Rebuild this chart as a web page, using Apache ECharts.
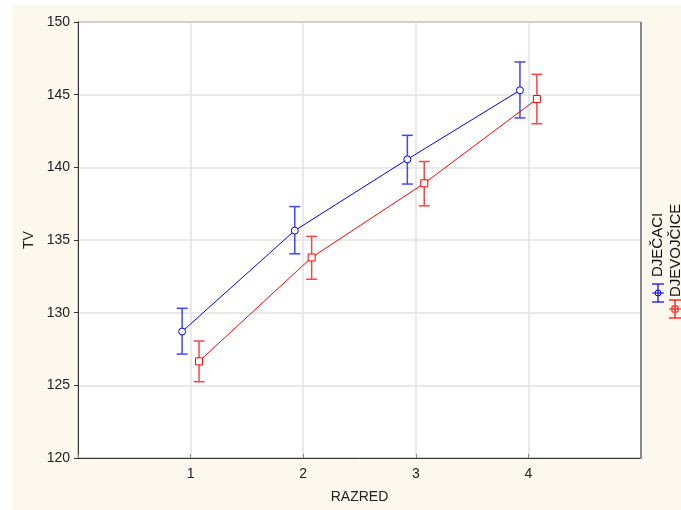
<!DOCTYPE html>
<html>
<head>
<meta charset="utf-8">
<script src="https://cdn.jsdelivr.net/npm/echarts@6/dist/echarts.min.js"></script>
<style>
  html, body { margin: 0; padding: 0; background: #ffffff; }
  #bg { position: absolute; left: 12px; top: 5px; width: 669px; height: 505px; background: #fdf8ee; }
  #chart { position: absolute; left: 0; top: 0; width: 681px; height: 510px; }
</style>
</head>
<body>
<div id="bg"></div>
<div id="chart"></div>
<script>
// ---- data ----
const categories = [1, 2, 3, 4];
const yTicks = [120, 125, 130, 135, 140, 145, 150];
const seriesNames = ['DJEČACI', 'DJEVOJČICE'];
const boysMean = [128.7, 135.65, 140.55, 145.3];
const boysLow  = [127.15, 134.05, 138.85, 143.4];
const boysHigh = [130.3, 137.3, 142.2, 147.25];
const girlsMean = [126.65, 133.8, 138.9, 144.7];
const girlsLow  = [125.25, 132.3, 137.35, 143.0];
const girlsHigh = [128.05, 135.25, 140.4, 146.4];

// ---- style constants ----
const OFFSET = 0.075;
const BLUE = '#0000ff', RED = '#ff0000';
const BLUE_EB = '#4444ff', RED_EB = '#ff4444';
const FONT = 'Liberation Sans, Arial, sans-serif';

const chart = echarts.init(document.getElementById('chart'), null, { renderer: 'canvas' });

function pts(mean, off) { return categories.map((c, i) => [c + off, mean[i]]); }
function ebData(low, high, off) { return categories.map((c, i) => [c + off, low[i], high[i]]); }

function errorBar(color) {
  return function (params, api) {
    const x = api.value(0);
    const lo = api.coord([x, api.value(1)]);
    const hi = api.coord([x, api.value(2)]);
    const w = 5.5;
    const st = { stroke: color, lineWidth: 1.5 };
    return {
      type: 'group',
      children: [
        { type: 'line', shape: { x1: lo[0], y1: lo[1], x2: hi[0], y2: hi[1] }, style: st },
        { type: 'line', shape: { x1: lo[0] - w, y1: lo[1], x2: lo[0] + w, y2: lo[1] }, style: st },
        { type: 'line', shape: { x1: hi[0] - w, y1: hi[1], x2: hi[0] + w, y2: hi[1] }, style: st }
      ]
    };
  };
}

function legendMark(cx, cy, color, shape) {
  const st = { stroke: color, lineWidth: 1.2 };
  const w = 6, h = 9;
  const children = [
    { type: 'line', shape: { x1: cx, y1: cy - h, x2: cx, y2: cy + h }, style: st },
    { type: 'line', shape: { x1: cx - w, y1: cy - h, x2: cx + w, y2: cy - h }, style: st },
    { type: 'line', shape: { x1: cx - w, y1: cy + h, x2: cx + w, y2: cy + h }, style: st },
    { type: 'line', shape: { x1: cx - w, y1: cy, x2: cx + w, y2: cy }, style: { stroke: color, lineWidth: 1 } }
  ];
  if (shape === 'circle') {
    children.push({ type: 'circle', shape: { cx: cx, cy: cy, r: 3 }, style: { stroke: color, fill: 'none', lineWidth: 1 } });
  } else {
    children.push({ type: 'rect', shape: { x: cx - 3, y: cy - 3, width: 6, height: 6 }, style: { stroke: color, fill: 'none', lineWidth: 1 } });
  }
  return { type: 'group', children: children, z: 100 };
}

const option = {
  animation: false,
  backgroundColor: 'transparent',
  textStyle: { fontFamily: FONT },
  grid: {
    left: 78, top: 22, right: 40, bottom: 52,
    show: true, backgroundColor: '#ffffff', borderColor: '#444', borderWidth: 1
  },
  xAxis: {
    type: 'value', min: 0, max: 5, interval: 1,
    name: 'RAZRED', nameLocation: 'middle', nameGap: 32,
    nameTextStyle: { color: '#222', fontSize: 14, fontFamily: FONT },
    axisLine: { show: true, lineStyle: { color: '#333' } },
    axisTick: { show: true, inside: true, length: 4, lineStyle: { color: '#888' } },
    axisLabel: {
      color: '#222', fontSize: 14, fontFamily: FONT, margin: 9,
      formatter: v => (categories.indexOf(v) >= 0 ? String(v) : '')
    },
    splitLine: { show: true, lineStyle: { color: '#e2e2e2', width: 1.5 } }
  },
  yAxis: {
    type: 'value', min: yTicks[0], max: yTicks[yTicks.length - 1], interval: 5,
    name: 'TV', nameLocation: 'middle', nameGap: 38,
    nameTextStyle: { color: '#222', fontSize: 14, fontFamily: FONT },
    axisLine: { show: true, lineStyle: { color: '#333' } },
    axisTick: { show: true, length: 4, lineStyle: { color: '#333' } },
    axisLabel: { color: '#222', fontSize: 14, fontFamily: FONT, margin: 8 },
    splitLine: { show: true, lineStyle: { color: '#e2e2e2', width: 1.5 } }
  },
  series: [
    {
      name: seriesNames[0], type: 'custom', renderItem: errorBar(BLUE_EB),
      data: ebData(boysLow, boysHigh, -OFFSET), encode: { x: 0, y: [1, 2] }, z: 3
    },
    {
      name: seriesNames[1], type: 'custom', renderItem: errorBar(RED_EB),
      data: ebData(girlsLow, girlsHigh, OFFSET), encode: { x: 0, y: [1, 2] }, z: 3
    },
    {
      name: seriesNames[0], type: 'line', data: pts(boysMean, -OFFSET),
      symbol: 'circle', symbolSize: 7,
      lineStyle: { color: BLUE, width: 1 },
      itemStyle: { color: '#ffffff', borderColor: BLUE, borderWidth: 1 }, z: 4
    },
    {
      name: seriesNames[1], type: 'line', data: pts(girlsMean, OFFSET),
      symbol: 'rect', symbolSize: 7,
      lineStyle: { color: RED, width: 1 },
      itemStyle: { color: '#ffffff', borderColor: RED, borderWidth: 1 }, z: 4
    }
  ],
  graphic: [
    { type: 'line', shape: { x1: 641, y1: 22, x2: 641, y2: 459 }, style: { stroke: '#888', lineWidth: 2 }, z: 100 },
    {
      type: 'text', x: 658, y: 277, rotation: Math.PI / 2,
      style: { text: seriesNames[0], fill: '#111', font: '15px ' + FONT, textAlign: 'left', textVerticalAlign: 'middle' }, z: 100
    },
    {
      type: 'text', x: 676, y: 297, rotation: Math.PI / 2,
      style: { text: seriesNames[1], fill: '#111', font: '15px ' + FONT, textAlign: 'left', textVerticalAlign: 'middle' }, z: 100
    },
    legendMark(658, 293, BLUE, 'circle'),
    legendMark(675, 309, RED, 'rect')
  ]
};

chart.setOption(option);
</script>
</body>
</html>
